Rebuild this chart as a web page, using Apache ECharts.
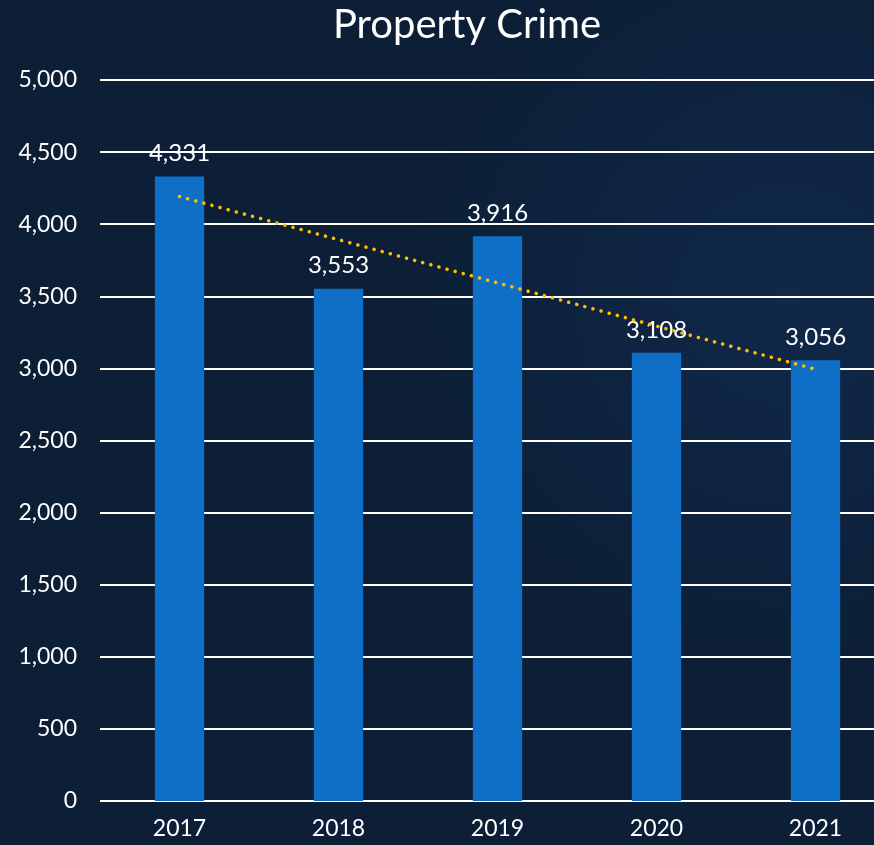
<!DOCTYPE html>
<html>
<head>
<meta charset="utf-8">
<script src="https://cdn.jsdelivr.net/npm/echarts@6/dist/echarts.min.js"></script>
<style>
  * { margin: 0; padding: 0; }
  html, body { width: 874px; height: 845px; overflow: hidden; background: #0c1f36; }
  #main { width: 874px; height: 845px; }
</style>
</head>
<body>
<div id="main"></div>
<script>
  // data
  var years = ['2017', '2018', '2019', '2020', '2021']
  var crimes = [4331, 3553, 3916, 3108, 3056]
  // trend line end points (first and last year), gaps in between
  var trend = [4192, null, null, null, 2994]
  var yTicks = { min: 0, max: 5000, interval: 500 }

  var font = 'Lato, "Noto Sans", sans-serif'
  var chart = echarts.init(document.getElementById('main'))
  chart.setOption({
    backgroundColor: {
      type: 'radial', x: 0.9, y: 0.35, r: 0.45,
      colorStops: [
        { offset: 0, color: '#11284a' },
        { offset: 1, color: '#0c1f36' }
      ]
    },
    animation: false,
    title: {
      text: 'Property Crime',
      left: 462, top: 0,
      textAlign: 'center',
      textStyle: { color: '#ffffff', fontSize: 40, fontWeight: 'normal', fontFamily: font }
    },
    // plot area runs past the right edge, like the original slide
    grid: { left: 100, width: 795, top: 80, height: 721, outerBoundsMode: 'none' },
    xAxis: {
      type: 'category',
      data: years,
      axisLine: { show: false },
      axisTick: { show: false },
      axisLabel: { color: '#ffffff', fontSize: 23, margin: 16, fontFamily: font }
    },
    yAxis: {
      type: 'value',
      min: yTicks.min, max: yTicks.max, interval: yTicks.interval,
      axisLine: { show: false },
      axisTick: { show: false },
      axisLabel: {
        color: '#ffffff', fontSize: 23, margin: 23, fontFamily: font,
        formatter: function (v) { return v.toLocaleString('en-US') }
      },
      splitLine: { lineStyle: { color: '#ffffff', width: 2 } }
    },
    series: [
      {
        type: 'bar',
        data: crimes,
        barWidth: '31%',
        itemStyle: { color: '#0f6fc6' },
        label: {
          show: true, position: 'top', distance: 11,
          color: '#ffffff', fontSize: 24, fontFamily: font,
          formatter: function (p) { return p.value.toLocaleString('en-US') }
        },
        z: 2
      },
      {
        type: 'line',
        data: trend,
        connectNulls: true,
        symbol: 'none',
        lineStyle: { color: '#ffc000', width: 3.5, type: [0.1, 8.3], cap: 'round' },
        z: 3
      }
    ]
  })
</script>
</body>
</html>
